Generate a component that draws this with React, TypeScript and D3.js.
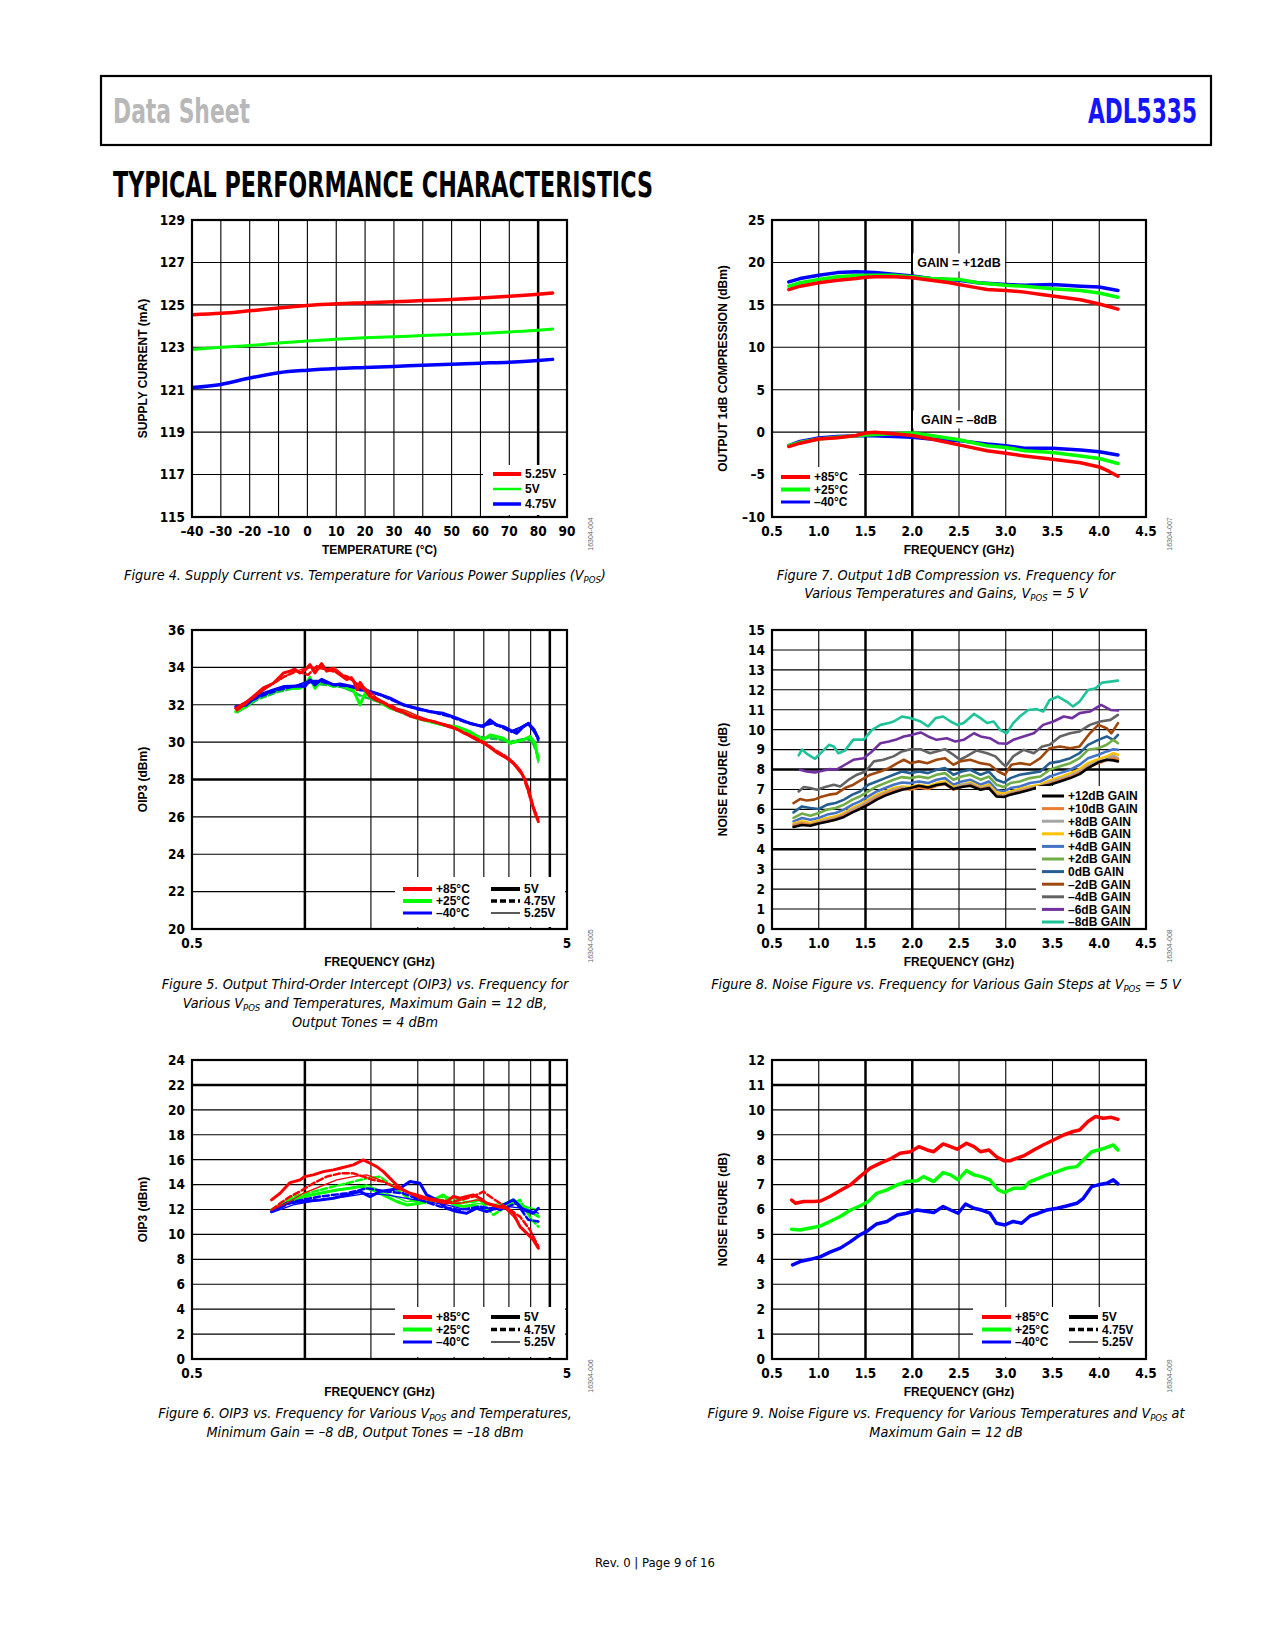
import * as d3 from 'd3'

type Pt = [number, number]

// ---------- Figure 4: supply current vs temperature
const TEMP_C = [-40, -30, -20, -10, 0, 10, 20, 30, 40, 50, 60, 70, 80, 85]
const IQ_525V = [124.53, 124.6, 124.72, 124.85, 124.97, 125.05, 125.1, 125.15, 125.2, 125.25, 125.32, 125.4, 125.5, 125.56]
const IQ_500V = [122.9, 123.0, 123.08, 123.2, 123.3, 123.38, 123.45, 123.5, 123.55, 123.6, 123.65, 123.72, 123.8, 123.86]
const IQ_475V = [121.1, 121.25, 121.55, 121.8, 121.92, 122.0, 122.05, 122.1, 122.15, 122.2, 122.25, 122.3, 122.38, 122.43]
const TEMP_TICKS = [-40, -30, -20, -10, 0, 10, 20, 30, 40, 50, 60, 70, 80, 90]
const IQ_TICKS = [115, 117, 119, 121, 123, 125, 127, 129]

// ---------- Figure 7: output P1dB vs frequency (GHz, dBm)
const P1DB_HI_85C: Pt[] = [[0.68, 16.8], [0.8, 17.2], [1.0, 17.6], [1.2, 17.9], [1.4, 18.1], [1.5, 18.25], [1.6, 18.3], [1.8, 18.3], [2.0, 18.2], [2.2, 17.9], [2.4, 17.6], [2.5, 17.4], [2.7, 17.0], [2.8, 16.8], [3.0, 16.7], [3.2, 16.5], [3.4, 16.2], [3.6, 15.9], [3.8, 15.6], [4.0, 15.1], [4.1, 14.8], [4.2, 14.5]]
const P1DB_HI_25C: Pt[] = [[0.68, 17.2], [0.8, 17.6], [1.0, 18.0], [1.2, 18.3], [1.4, 18.45], [1.6, 18.5], [1.8, 18.5], [2.0, 18.3], [2.2, 18.1], [2.5, 18.0], [2.7, 17.6], [3.0, 17.3], [3.2, 17.2], [3.5, 16.9], [3.8, 16.7], [4.0, 16.4], [4.2, 15.9]]
const P1DB_HI_M40C: Pt[] = [[0.68, 17.7], [0.8, 18.1], [1.0, 18.5], [1.2, 18.8], [1.4, 18.9], [1.6, 18.8], [1.8, 18.6], [2.0, 18.4], [2.2, 18.1], [2.5, 17.9], [2.7, 17.6], [3.0, 17.4], [3.2, 17.3], [3.5, 17.4], [3.8, 17.2], [4.0, 17.1], [4.2, 16.7]]
const P1DB_LO_85C: Pt[] = [[0.68, -1.7], [0.8, -1.3], [1.0, -0.8], [1.2, -0.65], [1.4, -0.4], [1.5, -0.1], [1.6, 0.0], [1.8, -0.2], [2.0, -0.4], [2.2, -0.8], [2.5, -1.5], [2.8, -2.2], [3.0, -2.5], [3.2, -2.8], [3.5, -3.2], [3.8, -3.6], [4.0, -4.1], [4.1, -4.6], [4.2, -5.2]]
const P1DB_LO_25C: Pt[] = [[0.68, -1.6], [0.8, -1.2], [1.0, -0.8], [1.2, -0.6], [1.5, -0.35], [1.8, -0.2], [2.0, -0.1], [2.2, -0.4], [2.5, -0.9], [2.8, -1.6], [3.0, -1.8], [3.2, -2.2], [3.5, -2.4], [3.8, -2.8], [4.0, -3.1], [4.2, -3.7]]
const P1DB_LO_M40C: Pt[] = [[0.68, -1.6], [0.8, -1.1], [1.0, -0.7], [1.2, -0.5], [1.5, -0.4], [1.8, -0.5], [2.0, -0.6], [2.2, -0.8], [2.5, -1.0], [2.8, -1.4], [3.0, -1.6], [3.2, -1.9], [3.5, -1.9], [3.8, -2.1], [4.0, -2.3], [4.2, -2.7]]

// ---------- Figure 5: OIP3 at max gain
const OIP3H_85_5V: Pt[] = [[0.654, 31.8], [0.7, 32.15], [0.744, 32.6], [0.775, 32.9], [0.824, 33.15], [0.877, 33.7], [0.913, 33.8], [0.94, 33.9], [0.97, 33.7], [1.0, 33.85], [1.032, 34.15], [1.064, 33.7], [1.108, 34.2], [1.143, 33.8], [1.191, 33.9], [1.241, 33.6], [1.292, 33.35], [1.33, 33.45], [1.346, 33.3], [1.38, 32.8], [1.403, 33.2], [1.447, 32.8], [1.492, 32.45], [1.554, 32.25], [1.619, 32.1], [1.687, 31.9], [1.757, 31.7], [1.83, 31.6], [1.907, 31.4], [1.986, 31.3], [2.07, 31.2], [2.156, 31.15], [2.246, 31.05], [2.34, 30.95], [2.438, 30.85], [2.54, 30.7], [2.646, 30.5], [2.756, 30.35], [2.871, 30.15], [2.991, 29.95], [3.116, 29.75], [3.246, 29.45], [3.382, 29.25], [3.523, 29.05], [3.67, 28.7], [3.746, 28.5], [3.863, 28.0], [3.943, 27.45], [4.024, 26.75], [4.108, 26.2], [4.193, 25.75]]
const OIP3H_85_475V: Pt[] = [[0.66, 31.7], [0.72, 32.3], [0.8, 33.0], [0.88, 33.5], [0.95, 33.8], [1.02, 33.6], [1.08, 34.1], [1.15, 33.9], [1.22, 33.7], [1.3, 33.5], [1.38, 33.1], [1.46, 32.7], [1.55, 32.3], [1.7, 31.95], [1.85, 31.55], [2.0, 31.3], [2.2, 31.1], [2.4, 30.9], [2.6, 30.6], [2.8, 30.3], [3.0, 30.0], [3.2, 29.6], [3.4, 29.3], [3.6, 28.9], [3.8, 28.3], [3.95, 27.3], [4.05, 26.6], [4.19, 25.9]]
const OIP3H_85_525V: Pt[] = [[0.66, 31.9], [0.74, 32.5], [0.82, 33.1], [0.9, 33.6], [0.98, 33.9], [1.05, 34.0], [1.12, 33.9], [1.2, 34.0], [1.28, 33.5], [1.36, 33.2], [1.45, 32.9], [1.55, 32.4], [1.7, 31.9], [1.85, 31.7], [2.0, 31.4], [2.2, 31.1], [2.4, 30.8], [2.6, 30.6], [2.8, 30.2], [3.0, 29.9], [3.2, 29.5], [3.4, 29.2], [3.6, 28.8], [3.8, 28.2], [3.95, 27.6], [4.1, 26.4], [4.19, 25.7]]
const OIP3H_25_5V: Pt[] = [[0.654, 31.63], [0.699, 31.9], [0.744, 32.43], [0.824, 32.7], [0.877, 32.85], [0.97, 32.88], [1.0, 33.06], [1.032, 33.47], [1.064, 32.88], [1.108, 33.33], [1.191, 32.97], [1.241, 33.06], [1.346, 32.79], [1.403, 31.99], [1.447, 32.61], [1.554, 32.26], [1.687, 31.81], [1.83, 31.63], [1.986, 31.28], [2.156, 31.1], [2.34, 30.92], [2.54, 30.83], [2.756, 30.56], [2.991, 30.12], [3.116, 30.39], [3.246, 30.3], [3.382, 30.21], [3.523, 29.94], [3.67, 30.03], [3.824, 30.12], [3.983, 30.3], [4.108, 29.94], [4.193, 29.05]]
const OIP3H_25_475V: Pt[] = [[0.66, 31.6], [0.75, 32.3], [0.85, 32.7], [0.95, 32.9], [1.03, 33.2], [1.1, 33.1], [1.2, 33.0], [1.3, 32.9], [1.4, 32.5], [1.55, 32.2], [1.7, 31.8], [1.9, 31.4], [2.1, 31.15], [2.35, 30.9], [2.6, 30.7], [2.9, 30.3], [3.1, 30.2], [3.3, 30.15], [3.5, 30.0], [3.7, 30.1], [3.9, 30.2], [4.05, 30.0], [4.19, 29.2]]
const OIP3H_25_525V: Pt[] = [[0.66, 31.7], [0.75, 32.4], [0.85, 32.8], [0.95, 33.0], [1.03, 33.3], [1.1, 33.2], [1.2, 33.1], [1.3, 32.8], [1.45, 32.4], [1.6, 32.1], [1.75, 31.7], [1.95, 31.35], [2.15, 31.1], [2.4, 30.9], [2.7, 30.6], [2.95, 30.2], [3.15, 30.3], [3.35, 30.2], [3.55, 29.9], [3.75, 30.1], [3.95, 30.15], [4.1, 29.8], [4.19, 28.9]]
const OIP3H_M40_5V: Pt[] = [[0.654, 31.9], [0.699, 31.99], [0.744, 32.47], [0.824, 32.79], [0.877, 32.97], [0.97, 33.0], [1.0, 32.97], [1.032, 33.33], [1.064, 33.06], [1.108, 33.36], [1.191, 33.06], [1.241, 33.11], [1.346, 32.97], [1.403, 32.79], [1.447, 32.79], [1.554, 32.61], [1.687, 32.35], [1.83, 31.99], [1.986, 31.81], [2.156, 31.63], [2.34, 31.54], [2.54, 31.28], [2.756, 31.0], [2.991, 30.83], [3.116, 31.19], [3.246, 30.92], [3.382, 30.83], [3.523, 30.65], [3.67, 30.47], [3.824, 30.83], [3.943, 31.0], [4.066, 30.65], [4.193, 30.21]]
const OIP3H_M40_475V: Pt[] = [[0.66, 31.8], [0.75, 32.4], [0.85, 32.8], [0.95, 33.0], [1.03, 33.2], [1.1, 33.25], [1.2, 33.05], [1.3, 33.0], [1.45, 32.75], [1.6, 32.5], [1.8, 32.05], [2.0, 31.75], [2.2, 31.6], [2.45, 31.35], [2.7, 31.05], [2.95, 30.85], [3.15, 31.0], [3.35, 30.8], [3.55, 30.55], [3.75, 30.75], [3.95, 30.95], [4.1, 30.6], [4.19, 30.1]]
const OIP3H_M40_525V: Pt[] = [[0.66, 31.9], [0.75, 32.5], [0.85, 32.85], [0.95, 33.05], [1.03, 33.3], [1.1, 33.3], [1.2, 33.1], [1.3, 33.0], [1.45, 32.8], [1.6, 32.55], [1.8, 32.1], [2.0, 31.8], [2.2, 31.65], [2.45, 31.4], [2.7, 31.1], [2.95, 30.9], [3.15, 31.1], [3.35, 30.85], [3.55, 30.6], [3.75, 30.8], [3.95, 31.05], [4.1, 30.7], [4.19, 30.3]]

// ---------- Figure 6: OIP3 at min gain
const OIP3L_85_5V: Pt[] = [[0.815, 12.77], [0.859, 13.3], [0.913, 14.16], [0.97, 14.37], [1.0, 14.64], [1.053, 14.78], [1.12, 15.04], [1.191, 15.18], [1.241, 15.31], [1.346, 15.58], [1.432, 15.98], [1.492, 15.71], [1.554, 15.44], [1.619, 15.04], [1.687, 14.5], [1.757, 13.97], [1.83, 13.57], [1.907, 13.3], [1.986, 13.17], [2.112, 12.9], [2.246, 12.77], [2.388, 12.64], [2.488, 13.04], [2.592, 12.9], [2.7, 13.04], [2.813, 13.17], [2.931, 12.9], [3.053, 12.5], [3.246, 12.24], [3.452, 12.1], [3.597, 11.7], [3.746, 10.63], [3.903, 10.1], [4.066, 9.56], [4.193, 8.9]]
const OIP3L_85_475V: Pt[] = [[0.815, 11.97], [0.859, 12.5], [0.913, 13.04], [0.97, 13.44], [1.053, 14.1], [1.143, 14.64], [1.241, 14.9], [1.346, 14.9], [1.432, 14.64], [1.522, 14.37], [1.619, 14.24], [1.721, 13.84], [1.868, 13.44], [2.027, 12.9], [2.201, 12.77], [2.388, 12.5], [2.592, 12.77], [2.813, 13.04], [2.991, 13.44], [3.116, 13.04], [3.314, 12.5], [3.523, 11.97], [3.746, 11.43], [3.983, 10.36], [4.193, 9.03]]
const OIP3L_85_525V: Pt[] = [[0.815, 11.97], [0.894, 12.5], [0.99, 13.3], [1.097, 13.84], [1.216, 14.37], [1.346, 14.64], [1.461, 14.78], [1.585, 14.37], [1.721, 13.84], [1.907, 13.3], [2.112, 12.77], [2.34, 12.5], [2.592, 12.5], [2.871, 12.77], [3.116, 12.5], [3.38, 12.24], [3.597, 11.43], [3.824, 10.36], [4.066, 9.56], [4.193, 9.16]]
const OIP3L_25_5V: Pt[] = [[0.815, 11.97], [0.894, 12.64], [0.99, 13.04], [1.097, 13.3], [1.216, 13.57], [1.319, 13.7], [1.403, 13.84], [1.522, 13.57], [1.652, 13.04], [1.757, 12.64], [1.868, 12.37], [2.027, 12.5], [2.201, 12.77], [2.34, 13.17], [2.488, 12.37], [2.646, 12.24], [2.813, 12.37], [3.053, 11.97], [3.314, 12.24], [3.597, 12.77], [3.824, 12.24], [4.066, 11.7], [4.193, 11.43]]
const OIP3L_25_475V: Pt[] = [[0.815, 11.97], [0.931, 13.04], [1.097, 13.57], [1.292, 14.1], [1.461, 14.5], [1.585, 14.64], [1.721, 13.84], [1.907, 12.77], [2.112, 12.5], [2.34, 12.77], [2.592, 12.5], [2.931, 12.77], [3.181, 11.57], [3.452, 12.24], [3.746, 12.77], [4.024, 11.17], [4.193, 10.63]]
const OIP3L_25_525V: Pt[] = [[0.815, 11.9], [0.931, 12.77], [1.097, 13.3], [1.292, 13.7], [1.461, 13.97], [1.652, 13.3], [1.868, 12.64], [2.112, 12.77], [2.388, 13.04], [2.7, 12.64], [3.053, 12.37], [3.452, 12.5], [3.746, 12.37], [4.193, 11.97]]
const OIP3L_M40_5V: Pt[] = [[0.815, 11.83], [0.894, 12.5], [0.99, 12.64], [1.097, 12.77], [1.191, 12.9], [1.292, 13.17], [1.403, 13.44], [1.492, 13.04], [1.585, 13.44], [1.687, 13.57], [1.793, 13.7], [1.907, 14.24], [2.027, 14.1], [2.112, 13.17], [2.246, 12.77], [2.388, 12.1], [2.54, 11.83], [2.7, 11.7], [2.871, 12.1], [3.053, 11.83], [3.314, 12.24], [3.597, 12.77], [3.824, 11.97], [4.066, 11.7], [4.193, 12.1]]
const OIP3L_M40_475V: Pt[] = [[0.815, 11.83], [0.931, 12.64], [1.097, 13.04], [1.292, 13.3], [1.461, 13.7], [1.652, 13.44], [1.83, 13.3], [2.027, 12.77], [2.292, 12.24], [2.592, 11.97], [2.931, 12.24], [3.314, 11.97], [3.67, 12.5], [3.943, 11.17], [4.193, 11.03]]
const OIP3L_M40_525V: Pt[] = [[0.815, 11.75], [0.931, 12.37], [1.097, 12.77], [1.292, 13.04], [1.461, 13.3], [1.652, 13.17], [1.868, 12.9], [2.112, 12.64], [2.388, 12.37], [2.7, 11.97], [3.053, 12.1], [3.452, 12.24], [3.824, 12.1], [4.193, 11.7]]

// ---------- Figure 8: noise figure vs gain step
const NF8_FREQ = [0.73, 0.82, 0.91, 1.0, 1.09, 1.18, 1.27, 1.36, 1.44, 1.53, 1.62, 1.71, 1.8, 1.89, 1.98, 2.07, 2.17, 2.26, 2.35, 2.44, 2.53, 2.62, 2.73, 2.82, 2.9, 2.98, 3.05, 3.15, 3.26, 3.37, 3.47, 3.58, 3.69, 3.79, 3.88, 3.99, 4.08, 4.15, 4.2]
const NF_P12 = [5.12, 5.22, 5.18, 5.29, 5.38, 5.48, 5.62, 5.85, 6.02, 6.24, 6.49, 6.69, 6.85, 6.99, 7.07, 7.19, 7.1, 7.22, 7.29, 7.02, 7.12, 7.19, 6.99, 7.07, 6.65, 6.62, 6.74, 6.85, 6.99, 7.15, 7.24, 7.4, 7.57, 7.77, 8.07, 8.36, 8.49, 8.46, 8.41]
const NF_P10 = [5.18, 5.29, 5.22, 5.32, 5.42, 5.52, 5.69, 5.9, 6.07, 6.32, 6.57, 6.77, 6.92, 7.04, 6.99, 7.1, 7.02, 7.19, 7.27, 6.99, 7.15, 7.22, 7.02, 7.1, 6.69, 6.65, 6.77, 6.89, 7.02, 7.1, 7.29, 7.45, 7.62, 7.82, 8.11, 8.32, 8.46, 8.57, 8.49]
const NF_P8 = [5.23, 5.32, 5.23, 5.37, 5.48, 5.57, 5.74, 5.99, 6.15, 6.4, 6.65, 6.82, 6.99, 7.1, 7.02, 7.15, 7.07, 7.24, 7.32, 7.04, 7.24, 7.29, 7.07, 7.15, 6.74, 6.69, 6.82, 6.94, 7.07, 7.15, 7.35, 7.52, 7.69, 7.9, 8.19, 8.41, 8.52, 8.69, 8.57]
const NF_P6 = [5.29, 5.4, 5.32, 5.44, 5.57, 5.65, 5.82, 6.07, 6.24, 6.49, 6.74, 6.9, 7.07, 7.15, 7.12, 7.24, 7.15, 7.32, 7.4, 7.12, 7.24, 7.35, 7.12, 7.24, 6.85, 6.79, 6.9, 7.02, 7.15, 7.24, 7.45, 7.62, 7.82, 8.02, 8.32, 8.52, 8.66, 8.82, 8.74]
const NF_P4 = [5.4, 5.57, 5.48, 5.57, 5.74, 5.82, 5.99, 6.24, 6.4, 6.65, 6.9, 7.07, 7.24, 7.35, 7.32, 7.4, 7.32, 7.49, 7.57, 7.24, 7.4, 7.49, 7.24, 7.4, 6.99, 6.9, 7.07, 7.15, 7.32, 7.4, 7.65, 7.82, 7.99, 8.24, 8.57, 8.74, 8.91, 9.02, 8.99]
const NF_P2 = [5.57, 5.79, 5.68, 5.82, 5.99, 6.07, 6.24, 6.49, 6.65, 6.9, 7.15, 7.32, 7.49, 7.62, 7.57, 7.65, 7.57, 7.74, 7.82, 7.49, 7.65, 7.74, 7.49, 7.65, 7.24, 7.12, 7.32, 7.4, 7.57, 7.65, 7.99, 8.16, 8.32, 8.57, 8.99, 9.07, 9.24, 9.49, 9.32]
const NF_0 = [5.85, 6.15, 6.07, 6.02, 6.24, 6.32, 6.49, 6.74, 6.9, 7.24, 7.4, 7.57, 7.74, 7.9, 7.82, 7.9, 7.82, 7.99, 8.07, 7.74, 7.9, 7.99, 7.74, 7.9, 7.49, 7.35, 7.57, 7.74, 7.82, 7.9, 8.32, 8.41, 8.57, 8.82, 9.24, 9.49, 9.66, 9.49, 9.74]
const NF_M2: Pt[] = [[0.73, 6.32], [0.8, 6.52], [0.87, 6.45], [0.95, 6.49], [1.02, 6.62], [1.11, 6.74], [1.19, 6.79], [1.28, 7.07], [1.37, 7.24], [1.46, 7.49], [1.55, 7.74], [1.66, 7.9], [1.75, 8.07], [1.84, 8.32], [1.91, 8.49], [1.98, 8.32], [2.07, 8.41], [2.16, 8.32], [2.26, 8.49], [2.35, 8.57], [2.44, 8.24], [2.51, 8.41], [2.62, 8.49], [2.73, 8.32], [2.83, 8.24], [2.92, 7.9], [2.99, 7.74], [3.06, 8.24], [3.15, 8.32], [3.26, 8.24], [3.37, 8.57], [3.47, 9.07], [3.58, 9.16], [3.69, 9.07], [3.79, 9.16], [3.9, 9.82], [3.99, 10.24], [4.08, 10.07], [4.13, 9.82], [4.2, 10.33]]
const NF_M4: Pt[] = [[0.785, 6.9], [0.84, 7.12], [0.91, 7.07], [0.98, 6.99], [1.07, 7.12], [1.16, 7.24], [1.23, 7.15], [1.32, 7.49], [1.41, 7.74], [1.5, 7.9], [1.59, 8.41], [1.69, 8.49], [1.8, 8.66], [1.89, 8.91], [1.98, 9.02], [2.09, 9.02], [2.19, 8.82], [2.26, 8.91], [2.35, 9.02], [2.44, 8.74], [2.51, 8.49], [2.58, 8.66], [2.69, 8.96], [2.8, 8.82], [2.89, 8.66], [2.96, 8.32], [3.0, 8.16], [3.08, 8.66], [3.19, 8.99], [3.3, 8.82], [3.39, 9.16], [3.47, 9.24], [3.58, 9.66], [3.69, 9.82], [3.79, 9.91], [3.9, 10.24], [4.01, 10.41], [4.12, 10.49], [4.2, 10.74]]
const NF_M6: Pt[] = [[0.8, 7.99], [0.87, 7.9], [0.96, 7.85], [1.05, 7.95], [1.12, 8.02], [1.19, 7.99], [1.28, 8.24], [1.37, 8.49], [1.48, 8.57], [1.57, 8.91], [1.66, 9.32], [1.75, 9.41], [1.82, 9.49], [1.91, 9.66], [2.0, 9.74], [2.09, 9.86], [2.17, 9.66], [2.26, 9.49], [2.37, 9.57], [2.46, 9.41], [2.55, 9.49], [2.66, 9.82], [2.73, 9.66], [2.83, 9.57], [2.92, 9.32], [3.01, 9.29], [3.08, 9.49], [3.19, 9.66], [3.3, 9.82], [3.4, 10.24], [3.51, 10.41], [3.62, 10.66], [3.71, 10.58], [3.79, 10.83], [3.9, 10.91], [4.02, 11.24], [4.12, 10.99], [4.2, 10.96]]
const NF_M8: Pt[] = [[0.785, 8.71], [0.82, 9.0], [0.87, 8.8], [0.96, 8.54], [1.02, 8.82], [1.11, 9.24], [1.16, 9.16], [1.21, 8.82], [1.28, 8.95], [1.37, 9.5], [1.48, 9.5], [1.57, 9.99], [1.66, 10.24], [1.75, 10.33], [1.8, 10.41], [1.89, 10.66], [1.98, 10.58], [2.09, 10.41], [2.17, 10.16], [2.25, 10.58], [2.33, 10.66], [2.41, 10.41], [2.48, 10.24], [2.55, 10.33], [2.66, 10.79], [2.73, 10.58], [2.8, 10.33], [2.87, 10.41], [2.94, 9.99], [3.01, 9.82], [3.08, 10.33], [3.15, 10.66], [3.24, 10.99], [3.33, 11.03], [3.4, 10.91], [3.47, 11.49], [3.56, 11.66], [3.65, 11.41], [3.72, 11.16], [3.79, 11.41], [3.88, 11.99], [3.96, 12.08], [4.03, 12.36], [4.12, 12.41], [4.2, 12.46]]
const GAIN_LABELS = ['+12dB GAIN', '+10dB GAIN', '+8dB GAIN', '+6dB GAIN', '+4dB GAIN', '+2dB GAIN', '0dB GAIN', '\u20132dB GAIN', '\u20134dB GAIN', '\u20136dB GAIN', '\u20138dB GAIN']
const GAIN_COLORS = ['#000000', '#ed7d31', '#a5a5a5', '#ffc000', '#4472c4', '#70ad47', '#255e91', '#9e480e', '#636363', '#7030a0', '#1fc39a']

// ---------- Figure 9: noise figure vs temperature, max gain
const NF9_85C: Pt[] = [[0.71, 6.38], [0.75, 6.25], [0.84, 6.32], [0.95, 6.32], [1.02, 6.34], [1.12, 6.52], [1.23, 6.76], [1.34, 6.99], [1.44, 7.32], [1.55, 7.66], [1.66, 7.86], [1.76, 8.02], [1.87, 8.26], [1.98, 8.32], [2.07, 8.52], [2.16, 8.39], [2.23, 8.32], [2.33, 8.63], [2.41, 8.52], [2.48, 8.42], [2.58, 8.66], [2.66, 8.52], [2.73, 8.32], [2.82, 8.39], [2.9, 8.12], [2.98, 7.96], [3.05, 7.96], [3.12, 8.06], [3.19, 8.15], [3.3, 8.39], [3.4, 8.59], [3.51, 8.79], [3.62, 8.99], [3.72, 9.13], [3.79, 9.19], [3.88, 9.53], [3.96, 9.73], [4.04, 9.66], [4.13, 9.7], [4.2, 9.62]]
const NF9_25C: Pt[] = [[0.71, 5.21], [0.8, 5.18], [0.91, 5.26], [1.02, 5.34], [1.12, 5.52], [1.23, 5.72], [1.34, 5.98], [1.44, 6.14], [1.53, 6.32], [1.62, 6.65], [1.73, 6.79], [1.84, 6.99], [1.94, 7.12], [2.05, 7.15], [2.12, 7.32], [2.23, 7.12], [2.33, 7.48], [2.41, 7.39], [2.49, 7.19], [2.58, 7.56], [2.66, 7.39], [2.74, 7.32], [2.83, 7.19], [2.92, 6.79], [2.99, 6.68], [3.08, 6.85], [3.19, 6.85], [3.26, 7.12], [3.35, 7.25], [3.44, 7.39], [3.55, 7.52], [3.65, 7.66], [3.76, 7.72], [3.83, 7.99], [3.92, 8.32], [3.99, 8.39], [4.06, 8.46], [4.15, 8.59], [4.2, 8.39]]
const NF9_M40C: Pt[] = [[0.72, 3.78], [0.8, 3.91], [0.91, 4.0], [1.02, 4.11], [1.12, 4.29], [1.23, 4.45], [1.34, 4.71], [1.44, 4.98], [1.51, 5.11], [1.62, 5.42], [1.73, 5.52], [1.84, 5.78], [1.94, 5.85], [2.05, 5.98], [2.16, 5.92], [2.23, 5.88], [2.33, 6.12], [2.41, 5.98], [2.49, 5.85], [2.57, 6.22], [2.66, 6.05], [2.74, 5.98], [2.83, 5.85], [2.9, 5.45], [2.99, 5.38], [3.08, 5.52], [3.17, 5.45], [3.26, 5.74], [3.35, 5.85], [3.44, 5.98], [3.55, 6.05], [3.65, 6.14], [3.76, 6.25], [3.83, 6.45], [3.92, 6.92], [3.99, 6.99], [4.08, 7.05], [4.15, 7.19], [4.2, 7.03]]

const LIN_FREQ_TICKS = [0.5, 1.0, 1.5, 2.0, 2.5, 3.0, 3.5, 4.0, 4.5]
const LOG_FREQ_GRID = [1, 1.5, 2, 2.5, 3, 3.5, 4, 4.5]
const LOG_FREQ_TICKS = [0.5, 5]

const RED = '#ff0000'
const GREEN = '#00ff00'
const DKGREEN = '#10c040'
const BLUE = '#0000ff'

const NARROW = "'Liberation Sans Narrow', 'Arial Narrow', 'DejaVu Sans Condensed', sans-serif"
const SANS = "'Liberation Sans', Arial, Helvetica, sans-serif"

const range = (a: number, b: number, s: number) => d3.range(a, b + s / 2, s)
const num = (v: number, digits = 0) => (v < 0 ? '\u2013' : '') + Math.abs(v).toFixed(digits)
const zip = (xs: number[], ys: number[]): Pt[] => xs.map((x, i) => [x, ys[i]])

interface Line { pts: Pt[]; color: string; width: number; dash?: string }
interface Item { label: string; color: string; width: number; dash?: string }
interface LegendSpec {
  box: [number, number, number, number]
  cols: { x: number; items: Item[] }[]
  y0: number
  gap: number
  len: number
  size: number
}
interface Note { x: number; y: number; text: string }
interface PanelSpec {
  id: string
  left: number; top: number; width: number; height: number
  log?: boolean
  xDomain: [number, number]; yDomain: [number, number]
  xGrid: number[]; yGrid: number[]
  xThick: number[]; yThick: number[]
  xTicks: number[]; yTicks: number[]
  xFmt: (v: number) => string
  yFmt: (v: number) => string
  xTitle: string; yTitle: string
  lines: Line[]
  curve?: d3.CurveFactory
  legend: LegendSpec
  notes?: Note[]
  figId: string
}

const TEMP_ITEMS: Item[] = [
  { label: '+85\u00b0C', color: RED, width: 4 },
  { label: '+25\u00b0C', color: GREEN, width: 4 },
  { label: '\u201340\u00b0C', color: BLUE, width: 3 },
]
const VPOS_ITEMS: Item[] = [
  { label: '5V', color: '#000', width: 4 },
  { label: '4.75V', color: '#000', width: 3.5, dash: '6,3' },
  { label: '5.25V', color: '#000', width: 1.3 },
]

function Legend({ l }: { l: LegendSpec }) {
  return (
    <g>
      <rect x={l.box[0]} y={l.box[1]} width={l.box[2]} height={l.box[3]} fill="#fff" />
      {l.cols.map((c, ci) =>
        c.items.map((it, i) => {
          const yy = l.y0 + i * l.gap
          return (
            <g key={`${ci}-${i}`}>
              <line x1={c.x} x2={c.x + l.len} y1={yy} y2={yy} stroke={it.color} strokeWidth={it.width} strokeDasharray={it.dash} />
              <text x={c.x + l.len + 4} y={yy} dy="0.36em" fontSize={l.size} fontFamily={SANS} fontWeight="bold">{it.label}</text>
            </g>
          )
        }),
      )}
    </g>
  )
}

function Panel({ s }: { s: PanelSpec }) {
  const x = (s.log ? d3.scaleLog() : d3.scaleLinear()).domain(s.xDomain).range([s.left, s.left + s.width])
  const y = d3.scaleLinear().domain(s.yDomain).range([s.top + s.height, s.top])
  const line = d3.line<Pt>().x((d) => x(d[0])).y((d) => y(d[1])).curve(s.curve ?? d3.curveLinear)
  const bottom = s.top + s.height
  const right = s.left + s.width
  const clip = `clip-${s.id}`
  return (
    <g>
      <defs>
        <clipPath id={clip}>
          <rect x={s.left} y={s.top} width={s.width} height={s.height} />
        </clipPath>
      </defs>
      <rect x={s.left} y={s.top} width={s.width} height={s.height} fill="#fff" />
      {s.xGrid.map((v) => (
        <line key={`gx${v}`} x1={x(v)} x2={x(v)} y1={s.top} y2={bottom} stroke="#000" strokeWidth={s.xThick.includes(v) ? 2.5 : 1.1} />
      ))}
      {s.yGrid.map((v) => (
        <line key={`gy${v}`} x1={s.left} x2={right} y1={y(v)} y2={y(v)} stroke="#000" strokeWidth={s.yThick.includes(v) ? 2.5 : 1.1} />
      ))}
      {s.notes?.map((n) => (
        <g key={n.text}>
          <rect x={x(n.x) - 46} y={y(n.y) - 9} width={92} height={18} fill="#fff" />
          <text x={x(n.x)} y={y(n.y)} dy="0.36em" textAnchor="middle" fontSize={12.5} fontFamily={SANS} fontWeight="bold">{n.text}</text>
        </g>
      ))}
      <g clipPath={`url(#${clip})`}>
        {s.lines.map((l, i) => (
          <path key={i} d={line(l.pts) ?? ''} fill="none" stroke={l.color} strokeWidth={l.width} strokeDasharray={l.dash} strokeLinejoin="round" strokeLinecap="round" />
        ))}
      </g>
      <Legend l={s.legend} />
      <rect x={s.left} y={s.top} width={s.width} height={s.height} fill="none" stroke="#000" strokeWidth={2.2} />
      {s.yTicks.map((v) => (
        <text key={`ty${v}`} x={s.left - 7} y={y(v)} dy="0.36em" textAnchor="end" fontSize={13.5} fontWeight="bold" fontFamily={NARROW}>{s.yFmt(v)}</text>
      ))}
      {s.xTicks.map((v) => (
        <text key={`tx${v}`} x={x(v)} y={bottom + 19} textAnchor="middle" fontSize={13.5} fontWeight="bold" fontFamily={NARROW}>{s.xFmt(v)}</text>
      ))}
      <text x={(s.left + right) / 2} y={bottom + 37} textAnchor="middle" fontSize={12} fontWeight="bold" fontFamily={SANS}>{s.xTitle}</text>
      <text transform={`translate(${s.left - 45},${(s.top + bottom) / 2}) rotate(-90)`} textAnchor="middle" fontSize={12} fontWeight="bold" fontFamily={SANS}>{s.yTitle}</text>
      <text transform={`translate(${right + 26},${bottom + 17}) rotate(-90)`} textAnchor="middle" fontSize={7} fill="#666" fontFamily={SANS}>{s.figId}</text>
    </g>
  )
}

const L = { left: 192, width: 375 }
const R = { left: 772, width: 374 }
const ROW = [{ top: 220, height: 297 }, { top: 630, height: 299 }, { top: 1060, height: 299 }]

const panels: PanelSpec[] = [
  {
    id: 'f4', ...L, ...ROW[0],
    xDomain: [-40, 90], yDomain: [115, 129],
    xGrid: TEMP_TICKS.slice(1, -1), yGrid: IQ_TICKS.slice(1, -1), xThick: [80], yThick: [],
    xTicks: TEMP_TICKS, yTicks: IQ_TICKS, xFmt: (v) => num(v), yFmt: (v) => num(v),
    xTitle: 'TEMPERATURE (\u00b0C)', yTitle: 'SUPPLY CURRENT (mA)',
    curve: d3.curveMonotoneX,
    lines: [
      { pts: zip(TEMP_C, IQ_525V), color: RED, width: 3.5 },
      { pts: zip(TEMP_C, IQ_500V), color: GREEN, width: 3 },
      { pts: zip(TEMP_C, IQ_475V), color: BLUE, width: 3.5 },
    ],
    legend: {
      box: [483, 465, 80, 50], y0: 474, gap: 15, len: 28, size: 12,
      cols: [{ x: 493, items: [
        { label: '5.25V', color: RED, width: 4 },
        { label: '5V', color: GREEN, width: 2.5 },
        { label: '4.75V', color: BLUE, width: 3.5 },
      ] }],
    },
    figId: '16304-004',
  },
  {
    id: 'f7', ...R, ...ROW[0],
    xDomain: [0.5, 4.5], yDomain: [-10, 25],
    xGrid: LIN_FREQ_TICKS.slice(1, -1), yGrid: range(-5, 20, 5), xThick: [1.5, 2.0], yThick: [],
    xTicks: LIN_FREQ_TICKS, yTicks: range(-10, 25, 5), xFmt: (v) => num(v, 1), yFmt: (v) => num(v),
    xTitle: 'FREQUENCY (GHz)', yTitle: 'OUTPUT 1dB COMPRESSION (dBm)',
    lines: [
      { pts: P1DB_HI_M40C, color: BLUE, width: 3.5 },
      { pts: P1DB_HI_25C, color: GREEN, width: 3.5 },
      { pts: P1DB_HI_85C, color: RED, width: 3.5 },
      { pts: P1DB_LO_M40C, color: BLUE, width: 3.5 },
      { pts: P1DB_LO_25C, color: GREEN, width: 3.5 },
      { pts: P1DB_LO_85C, color: RED, width: 3.5 },
    ],
    notes: [{ x: 2.5, y: 20, text: 'GAIN = +12dB' }, { x: 2.5, y: 1.5, text: 'GAIN = \u20138dB' }],
    legend: { box: [773, 467, 86, 50], y0: 477, gap: 12.5, len: 29, size: 12, cols: [{ x: 781, items: TEMP_ITEMS }] },
    figId: '16304-007',
  },
  {
    id: 'f5', ...L, ...ROW[1], log: true,
    xDomain: [0.5, 5], yDomain: [20, 36],
    xGrid: LOG_FREQ_GRID, yGrid: range(22, 34, 2), xThick: [1, 4.5], yThick: [28],
    xTicks: LOG_FREQ_TICKS, yTicks: range(20, 36, 2), xFmt: (v) => String(v), yFmt: (v) => num(v),
    xTitle: 'FREQUENCY (GHz)', yTitle: 'OIP3 (dBm)',
    lines: [
      { pts: OIP3H_25_525V, color: DKGREEN, width: 1.3 },
      { pts: OIP3H_25_475V, color: DKGREEN, width: 2.5, dash: '6,3' },
      { pts: OIP3H_25_5V, color: GREEN, width: 3 },
      { pts: OIP3H_M40_525V, color: BLUE, width: 1.3 },
      { pts: OIP3H_M40_475V, color: BLUE, width: 2.5, dash: '6,3' },
      { pts: OIP3H_M40_5V, color: BLUE, width: 3 },
      { pts: OIP3H_85_525V, color: RED, width: 1.3 },
      { pts: OIP3H_85_475V, color: RED, width: 2.5, dash: '6,3' },
      { pts: OIP3H_85_5V, color: RED, width: 3 },
    ],
    legend: { box: [395, 877, 170, 50], y0: 889, gap: 12, len: 29, size: 12, cols: [{ x: 403, items: TEMP_ITEMS }, { x: 491, items: VPOS_ITEMS }] },
    figId: '16304-005',
  },
  {
    id: 'f8', ...R, ...ROW[1],
    xDomain: [0.5, 4.5], yDomain: [0, 15],
    xGrid: LIN_FREQ_TICKS.slice(1, -1), yGrid: range(1, 14, 1), xThick: [1.5, 2.0], yThick: [4, 8],
    xTicks: LIN_FREQ_TICKS, yTicks: range(0, 15, 1), xFmt: (v) => num(v, 1), yFmt: (v) => num(v),
    xTitle: 'FREQUENCY (GHz)', yTitle: 'NOISE FIGURE (dB)',
    lines: [
      { pts: NF_M8, color: GAIN_COLORS[10], width: 2.6 },
      { pts: NF_M6, color: GAIN_COLORS[9], width: 2.6 },
      { pts: NF_M4, color: GAIN_COLORS[8], width: 2.6 },
      { pts: NF_M2, color: GAIN_COLORS[7], width: 2.6 },
      { pts: zip(NF8_FREQ, NF_0), color: GAIN_COLORS[6], width: 2.6 },
      { pts: zip(NF8_FREQ, NF_P2), color: GAIN_COLORS[5], width: 2.6 },
      { pts: zip(NF8_FREQ, NF_P4), color: GAIN_COLORS[4], width: 2.6 },
      { pts: zip(NF8_FREQ, NF_P6), color: GAIN_COLORS[3], width: 2.6 },
      { pts: zip(NF8_FREQ, NF_P8), color: GAIN_COLORS[2], width: 2.6 },
      { pts: zip(NF8_FREQ, NF_P10), color: GAIN_COLORS[1], width: 2.6 },
      { pts: zip(NF8_FREQ, NF_P12), color: GAIN_COLORS[0], width: 2.6 },
    ],
    legend: {
      box: [1036, 786, 109, 142], y0: 796, gap: 12.6, len: 22, size: 12,
      cols: [{ x: 1042, items: GAIN_LABELS.map((label, i) => ({ label, color: GAIN_COLORS[i], width: 3 })) }],
    },
    figId: '16304-008',
  },
  {
    id: 'f6', ...L, ...ROW[2], log: true,
    xDomain: [0.5, 5], yDomain: [0, 24],
    xGrid: LOG_FREQ_GRID, yGrid: range(2, 22, 2), xThick: [1, 4.5], yThick: [22],
    xTicks: LOG_FREQ_TICKS, yTicks: range(0, 24, 2), xFmt: (v) => String(v), yFmt: (v) => num(v),
    xTitle: 'FREQUENCY (GHz)', yTitle: 'OIP3 (dBm)',
    lines: [
      { pts: OIP3L_25_525V, color: GREEN, width: 1.3 },
      { pts: OIP3L_25_475V, color: GREEN, width: 2.5, dash: '6,3' },
      { pts: OIP3L_25_5V, color: GREEN, width: 3 },
      { pts: OIP3L_M40_525V, color: BLUE, width: 1.3 },
      { pts: OIP3L_M40_475V, color: BLUE, width: 2.5, dash: '6,3' },
      { pts: OIP3L_M40_5V, color: BLUE, width: 3 },
      { pts: OIP3L_85_525V, color: RED, width: 1.3 },
      { pts: OIP3L_85_475V, color: RED, width: 2.5, dash: '6,3' },
      { pts: OIP3L_85_5V, color: RED, width: 3 },
    ],
    legend: { box: [395, 1307, 170, 50], y0: 1317, gap: 12.5, len: 29, size: 12, cols: [{ x: 403, items: TEMP_ITEMS }, { x: 491, items: VPOS_ITEMS }] },
    figId: '16304-006',
  },
  {
    id: 'f9', ...R, ...ROW[2],
    xDomain: [0.5, 4.5], yDomain: [0, 12],
    xGrid: LIN_FREQ_TICKS.slice(1, -1), yGrid: range(1, 11, 1), xThick: [1.5, 2.0], yThick: [11],
    xTicks: LIN_FREQ_TICKS, yTicks: range(0, 12, 1), xFmt: (v) => num(v, 1), yFmt: (v) => num(v),
    xTitle: 'FREQUENCY (GHz)', yTitle: 'NOISE FIGURE (dB)',
    lines: [
      { pts: NF9_85C, color: RED, width: 3.5 },
      { pts: NF9_25C, color: GREEN, width: 3.5 },
      { pts: NF9_M40C, color: BLUE, width: 3.5 },
    ],
    legend: { box: [973, 1307, 172, 50], y0: 1317, gap: 12.5, len: 29, size: 12, cols: [{ x: 982, items: TEMP_ITEMS }, { x: 1069, items: VPOS_ITEMS }] },
    figId: '16304-009',
  },
]

const CAP = { fontFamily: NARROW, fontStyle: 'italic' as const, fontSize: 14.3, textAnchor: 'middle' as const }

// "V" followed by a POS subscript, then the rest of the line back on the baseline
function Vpos({ after }: { after: string }) {
  return (
    <>
      V<tspan fontSize={9.5} dy={3}>POS</tspan>
      <tspan dy={-3}>{after}</tspan>
    </>
  )
}

export default function App() {
  return (
    <svg width={1275} height={1650} style={{ position: 'absolute', left: 0, top: 0, background: '#fff' }}>
      <rect x={0} y={0} width={1275} height={1650} fill="#fff" />
      <rect x={101} y={76} width={1110} height={69} fill="none" stroke="#000" strokeWidth={2.2} />
      <text x={113} y={123} fontSize={34} fontWeight="bold" fontFamily={NARROW} fill="#b8b8b8" textLength={137} lengthAdjust="spacingAndGlyphs">Data Sheet</text>
      <text x={1197} y={123} fontSize={34} fontWeight="bold" fontFamily={NARROW} fill="#1414ff" textAnchor="end" textLength={109} lengthAdjust="spacingAndGlyphs">ADL5335</text>
      <text x={113} y={197} fontSize={35} fontWeight="bold" fontFamily={NARROW} fill="#000" textLength={540} lengthAdjust="spacingAndGlyphs">TYPICAL PERFORMANCE CHARACTERISTICS</text>

      {panels.map((p) => <Panel key={p.id} s={p} />)}

      <text x={365} y={580} {...CAP}>Figure 4. Supply Current vs. Temperature for Various Power Supplies (<Vpos after=")" /></text>

      <text x={946} y={580} {...CAP}>Figure 7. Output 1dB Compression vs. Frequency for</text>
      <text x={946} y={598} {...CAP}>Various Temperatures and Gains, <Vpos after=" = 5 V" /></text>

      <text x={365} y={989} {...CAP}>Figure 5. Output Third-Order Intercept (OIP3) vs. Frequency for</text>
      <text x={365} y={1008} {...CAP}>Various <Vpos after=" and Temperatures, Maximum Gain = 12 dB," /></text>
      <text x={365} y={1027} {...CAP}>Output Tones = 4 dBm</text>

      <text x={946} y={989} {...CAP}>Figure 8. Noise Figure vs. Frequency for Various Gain Steps at <Vpos after=" = 5 V" /></text>

      <text x={365} y={1418} {...CAP}>Figure 6. OIP3 vs. Frequency for Various <Vpos after=" and Temperatures," /></text>
      <text x={365} y={1437} {...CAP}>Minimum Gain = {'\u2013'}8 dB, Output Tones = {'\u2013'}18 dBm</text>

      <text x={946} y={1418} {...CAP}>Figure 9. Noise Figure vs. Frequency for Various Temperatures and <Vpos after=" at" /></text>
      <text x={946} y={1437} {...CAP}>Maximum Gain = 12 dB</text>

      <text x={655} y={1567} textAnchor="middle" fontSize={13} fontFamily={NARROW}>Rev. 0 | Page 9 of 16</text>
    </svg>
  )
}
